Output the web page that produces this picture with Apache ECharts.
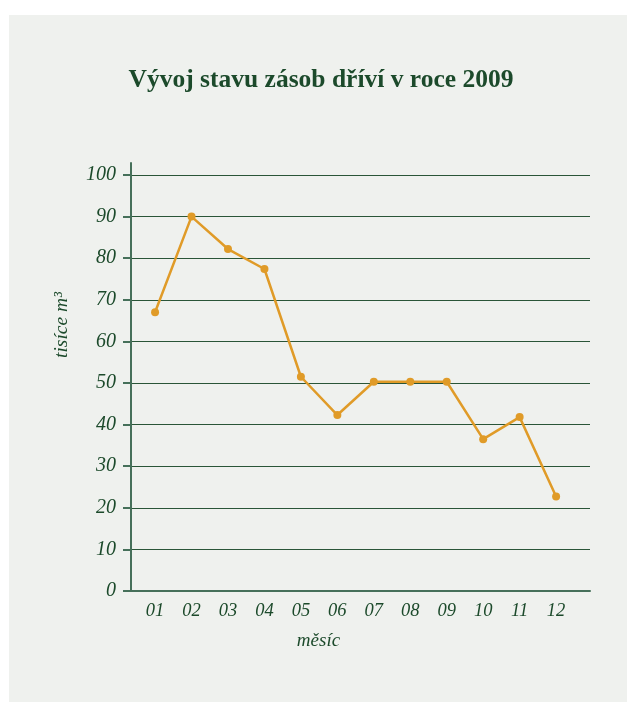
<!DOCTYPE html>
<html>
<head>
<meta charset="utf-8">
<script src="https://cdn.jsdelivr.net/npm/echarts@6/dist/echarts.min.js"></script>
<style>
  html, body { margin: 0; padding: 0; background: #ffffff; }
  #panel { position: absolute; left: 9px; top: 15px; width: 618px; height: 687px; background: #eff1ee; }
  #chart { position: absolute; left: 0; top: 0; width: 627px; height: 702px; }
</style>
</head>
<body>
<div id="panel"></div>
<div id="chart"></div>
<script>
const titleText = 'Vývoj stavu zásob dříví v roce 2009';
const categories = ['01','02','03','04','05','06','07','08','09','10','11','12'];
const values = [67.0, 90.0, 82.2, 77.4, 51.5, 42.3, 50.3, 50.3, 50.3, 36.5, 41.8, 22.7];
const yTicks = [0, 10, 20, 30, 40, 50, 60, 70, 80, 90, 100];
const xName = 'měsíc';
const yName = 'tisíce m³';

const textColor = '#1c4a2b';
const fontFam = '"Liberation Serif", "DejaVu Serif", serif';

const chart = echarts.init(document.getElementById('chart'), null, { renderer: 'canvas' });
const xPos = categories.map((c, i) => i + 1);

chart.setOption({
  backgroundColor: 'transparent',
  animation: false,
  title: {
    text: titleText,
    left: 316,
    textAlign: 'center',
    top: 62,
    textStyle: { fontFamily: fontFam, fontWeight: 'bold', fontSize: 25.5, color: textColor }
  },
  grid: { left: 131, right: 37, top: 163, bottom: 111, containLabel: false },
  xAxis: {
    type: 'value',
    min: 0.34,
    max: 12.93,
    name: xName,
    nameLocation: 'middle',
    nameGap: 40,
    nameTextStyle: { fontFamily: fontFam, fontStyle: 'italic', fontSize: 19, color: textColor, padding: [0, 84, 0, 0] },
    axisLine: { show: true, lineStyle: { color: '#46705a', width: 2 } },
    axisTick: { show: false },
    splitLine: { show: false },
    axisLabel: {
      customValues: xPos,
      margin: 11,
      fontFamily: fontFam, fontStyle: 'italic', fontSize: 18.5, color: textColor,
      formatter: v => categories[Math.round(v) - 1]
    }
  },
  yAxis: {
    type: 'value',
    min: 0,
    max: 102.88,
    axisLine: { show: true, lineStyle: { color: '#46705a', width: 2 } },
    axisTick: { show: true, customValues: yTicks, length: 8, lineStyle: { color: '#46705a', width: 2 } },
    axisLabel: {
      customValues: yTicks,
      margin: 15,
      fontFamily: fontFam, fontStyle: 'italic', fontSize: 20, color: textColor
    },
    splitLine: { show: true, lineStyle: { color: '#2a5538', width: 1.2 } }
  },
  graphic: [{
    type: 'text',
    x: 62,
    y: 325,
    rotation: Math.PI / 2,
    style: {
      text: yName,
      fontFamily: fontFam, fontStyle: 'italic', fontSize: 19.5,
      fill: textColor,
      align: 'center', verticalAlign: 'middle'
    }
  }],
  series: [{
    type: 'line',
    data: xPos.map((x, i) => [x, values[i]]),
    symbol: 'circle',
    symbolSize: 8,
    lineStyle: { color: '#e09b28', width: 2.5 },
    itemStyle: { color: '#e09b28' },
    z: 5
  }]
});
</script>
</body>
</html>
